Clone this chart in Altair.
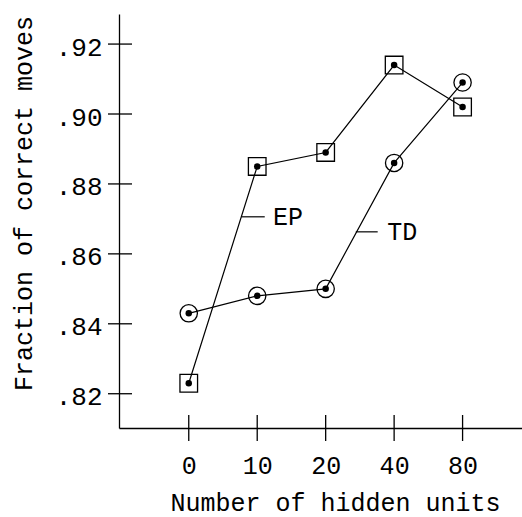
import altair as alt
import pandas as pd

# Data
units = ["0", "10", "20", "40", "80"]
ep_values = [0.823, 0.885, 0.889, 0.914, 0.902]
td_values = [0.843, 0.848, 0.850, 0.886, 0.909]
y_ticks = [0.82, 0.84, 0.86, 0.88, 0.90, 0.92]
x_ticks = [0, 1, 2, 3, 4]

# Series labels with their leader lines (data coordinates)
label_text = ["EP", "TD"]
label_x = [1.23, 2.90]
label_y = [0.8706, 0.8663]
leader_x1 = [0.77, 2.44]
leader_x2 = [1.11, 2.76]

FONT = "Liberation Mono"
W, H = 403, 414

rows = []
for i, u in enumerate(units):
    rows.append({"pos": i, "series": "EP", "value": ep_values[i]})
    rows.append({"pos": i, "series": "TD", "value": td_values[i]})
df = pd.DataFrame(rows)

lab = pd.DataFrame({"text": label_text, "x": label_x, "y": label_y,
                    "x1": leader_x1, "x2": leader_x2})
yt = pd.DataFrame({"v": y_ticks})
xt = pd.DataFrame({"p": x_ticks})

xscale = alt.Scale(domain=[-1.019, 4.868], nice=False, zero=False)
yscale = alt.Scale(domain=[0.8102, 0.9286], nice=False, zero=False)

label_expr = "[" + ",".join("'%s'" % u for u in units) + "][datum.value]"

xaxis = alt.Axis(
    values=x_ticks, labelExpr=label_expr, title="Number of hidden units",
    grid=False, ticks=False, domainColor="black", domainWidth=1.3,
    labelFont=FONT, labelFontSize=25, labelColor="black",
    labelBaseline="alphabetic", labelPadding=45,
    titleFont=FONT, titleFontSize=25, titleFontWeight="normal", titleColor="black",
    titleX=216, titleY=82, titleBaseline="alphabetic", titleAlign="center",
)
yaxis = alt.Axis(
    values=y_ticks, labelExpr="substring(format(datum.value, '.2f'), 1)",
    title="Fraction of correct moves", grid=False, ticks=False,
    domainColor="black", domainWidth=1.3,
    labelFont=FONT, labelFontSize=26, labelColor="black",
    labelBaseline="middle", labelPadding=17, labelOffset=3,
    titleFont=FONT, titleFontSize=25, titleFontWeight="normal", titleColor="black",
    titleX=-96, titleY=189, titleAngle=-90, titleBaseline="middle", titleAlign="center",
)

base = alt.Chart(df)

lines = base.mark_line(color="black", strokeWidth=1.2).encode(
    x=alt.X("pos:Q", scale=xscale, axis=xaxis),
    y=alt.Y("value:Q", scale=yscale, axis=yaxis),
    detail="series:N",
)
squares = base.transform_filter(alt.datum.series == "EP").mark_point(
    shape="square", size=310, filled=False, color="black", strokeWidth=1.3, opacity=1
).encode(x="pos:Q", y="value:Q")
circles = base.transform_filter(alt.datum.series == "TD").mark_point(
    shape="circle", size=300, filled=False, color="black", strokeWidth=1.3, opacity=1
).encode(x="pos:Q", y="value:Q")
dots = base.mark_point(
    shape="circle", size=42, filled=True, color="black", opacity=1
).encode(x="pos:Q", y="value:Q")

leaders = alt.Chart(lab).mark_rule(color="black", strokeWidth=1.2).encode(
    x="x1:Q", x2="x2:Q", y="y:Q"
)
texts = alt.Chart(lab).mark_text(
    font=FONT, fontSize=25, align="left", baseline="middle", color="black"
).encode(x="x:Q", y="y:Q", text="text:N")

ytick_rules = alt.Chart(yt).mark_rule(color="black", strokeWidth=1.3).encode(
    y="v:Q", x=alt.value(-11), x2=alt.value(13)
)
xtick_rules = alt.Chart(xt).mark_rule(color="black", strokeWidth=1.3).encode(
    x="p:Q", y=alt.value(H - 13), y2=alt.value(H + 13)
)

chart = alt.layer(
    lines, ytick_rules, xtick_rules, leaders, texts, squares, circles, dots
).properties(
    width=W, height=H,
    autosize=alt.AutoSizeParams(type="none"),
    padding={"left": 119, "top": 14, "right": 0, "bottom": 89},
    background="white",
).configure_view(stroke=None)

chart.save("out.html", embed_options={"renderer": "svg", "actions": False})
